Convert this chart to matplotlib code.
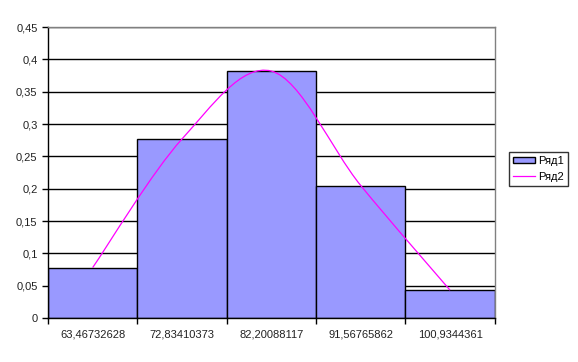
import numpy as np
import matplotlib.pyplot as plt
from matplotlib.path import Path
from matplotlib.patches import PathPatch
from matplotlib.lines import Line2D
from matplotlib.ticker import FuncFormatter, MultipleLocator

plt.rcParams['font.family'] = ['Liberation Sans', 'DejaVu Sans']

# data
categories = ['63,46732628', '72,83410373', '82,20088117', '91,56765862', '100,9344361']
ryad1 = [0.078, 0.277, 0.382, 0.205, 0.043]
ryad2 = [0.078, 0.277, 0.382, 0.205, 0.043]

fig = plt.figure(figsize=(5.78, 3.62), dpi=100)
ax = fig.add_axes([0.083, 0.1215, 0.773, 0.8035])

x = np.arange(len(categories))
ax.bar(x, ryad1, width=1.0, color='#9999FF', edgecolor='black', linewidth=1, zorder=2)

# smoothed line (Excel style bezier through the points)
pts = np.column_stack([x, ryad2])
verts = [tuple(pts[0])]
codes = [Path.MOVETO]
n = len(pts)
for i in range(n - 1):
    p0 = pts[max(i - 1, 0)]
    p1 = pts[i]
    p2 = pts[i + 1]
    p3 = pts[min(i + 2, n - 1)]
    c1 = p1 + (p2 - p0) / 6
    c2 = p2 - (p3 - p1) / 6
    verts += [tuple(c1), tuple(c2), tuple(p2)]
    codes += [Path.CURVE4] * 3
ax.add_patch(PathPatch(Path(verts, codes), facecolor='none', edgecolor='#FF00FF', linewidth=0.9, zorder=3))

ax.set_xlim(-0.5, len(categories) - 0.5)
ax.set_ylim(0, 0.45)
ax.yaxis.set_major_locator(MultipleLocator(0.05))
ax.yaxis.set_major_formatter(FuncFormatter(lambda v, p: ('%g' % round(v, 2)).replace('.', ',')))
ax.grid(axis='y', color='black', linewidth=1, zorder=1)
ax.set_axisbelow(True)

ax.set_xticks(x)
ax.set_xticklabels(categories)
ax.set_xticks(np.arange(len(categories) + 1) - 0.5, minor=True)
ax.tick_params(axis='x', which='major', length=0, pad=8, labelsize=8, colors='#222222')
ax.tick_params(axis='x', which='minor', length=4, width=1, direction='out', color='black')
ax.tick_params(axis='y', length=4, width=1, direction='out', labelsize=8, colors='#222222')
ax.tick_params(axis='both', which='both', color='black')

for s in ['left', 'bottom']:
    ax.spines[s].set_color('black')
    ax.spines[s].set_linewidth(1)
for s in ['top', 'right']:
    ax.spines[s].set_color('#808080')
    ax.spines[s].set_linewidth(1)

handles = [plt.Rectangle((0, 0), 1, 1, facecolor='#9999FF', edgecolor='black', linewidth=1),
           Line2D([0], [0], color='#FF00FF', linewidth=0.9)]
leg = fig.legend(handles, ['Ряд1', 'Ряд2'], loc='center left', bbox_to_anchor=(0.880, 0.533),
                 fontsize=8, frameon=True, fancybox=False, edgecolor='black',
                 handlelength=2.0, handleheight=0.55, borderpad=0.35, labelspacing=0.55,
                 handletextpad=0.3, borderaxespad=0)
leg.get_frame().set_linewidth(1)

fig.savefig('out.png', dpi=100)
